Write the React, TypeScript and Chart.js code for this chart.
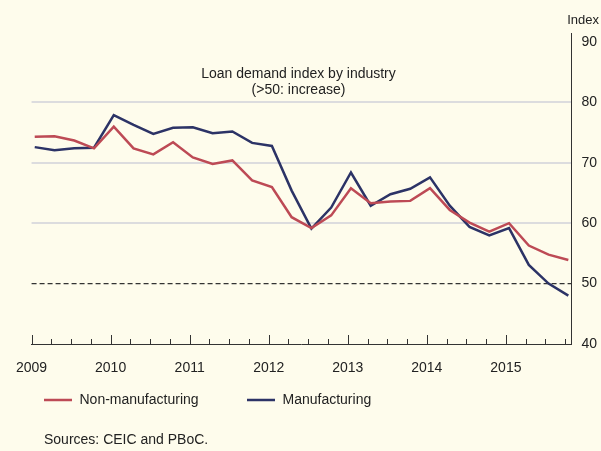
import React, { useEffect, useRef } from 'react';
import { Chart, registerables } from 'chart.js';

Chart.register(...registerables);

const quarters = [
  '2009Q1', '2009Q2', '2009Q3', '2009Q4',
  '2010Q1', '2010Q2', '2010Q3', '2010Q4',
  '2011Q1', '2011Q2', '2011Q3', '2011Q4',
  '2012Q1', '2012Q2', '2012Q3', '2012Q4',
  '2013Q1', '2013Q2', '2013Q3', '2013Q4',
  '2014Q1', '2014Q2', '2014Q3', '2014Q4',
  '2015Q1', '2015Q2', '2015Q3', '2015Q4',
];

const nonManufacturing = [
  74.3, 74.4, 73.7, 72.4,
  76.0, 72.4, 71.4, 73.4,
  70.9, 69.8, 70.4, 67.1,
  66.0, 61.0, 59.2, 61.3,
  65.8, 63.3, 63.6, 63.7,
  65.8, 62.2, 60.1, 58.6,
  60.0, 56.3, 54.8, 53.9,
];

const manufacturing = [
  72.6, 72.1, 72.4, 72.5,
  77.9, 76.3, 74.8, 75.8,
  75.9, 74.9, 75.2, 73.3,
  72.8, 65.4, 59.1, 62.6,
  68.4, 62.9, 64.8, 65.7,
  67.6, 62.9, 59.4, 58.0,
  59.2, 53.1, 50.0, 48.0,
];

const yearTicks = [2009, 2010, 2011, 2012, 2013, 2014, 2015];
const yTicks = [40, 50, 60, 70, 80, 90];
const gridValues = [60, 70, 80];
const threshold = 50;

const titleLines = ['Loan demand index by industry', '(>50: increase)'];
const unitLabel = 'Index';
const sourceText = 'Sources: CEIC and PBoC.';

const RED = '#bd4a55';
const NAVY = '#2c3366';
const TEXT = '#222222';
const AXIS = '#333333';
const BG = '#fefcec';
const FONT = "'Liberation Sans', Arial, Helvetica, sans-serif";

function quarterToYear(q: string): number {
  const year = parseInt(q.slice(0, 4), 10);
  const qn = parseInt(q.slice(5), 10);
  return year + (qn - 1) / 4 + 0.04;
}

const decorPlugin = {
  id: 'decor',
  beforeDatasetsDraw(chart: any) {
    const { ctx, chartArea, scales } = chart;
    const y = scales.y.getPixelForValue(threshold);
    ctx.save();
    ctx.strokeStyle = AXIS;
    ctx.lineWidth = 1.2;
    ctx.setLineDash([5, 3]);
    ctx.beginPath();
    ctx.moveTo(chartArea.left, y);
    ctx.lineTo(chartArea.right, y);
    ctx.stroke();
    ctx.restore();
  },
  afterDraw(chart: any) {
    const { ctx, chartArea, scales } = chart;
    const xs = scales.x;
    ctx.save();
    // quarterly tick marks on x axis, pointing inward
    ctx.strokeStyle = AXIS;
    ctx.lineWidth = 1;
    const bottom = chartArea.bottom;
    for (let i = 0; i < quarters.length; i++) {
      const year = parseInt(quarters[i].slice(0, 4), 10);
      const qn = parseInt(quarters[i].slice(5), 10);
      const v = year + (qn - 1) / 4;
      const px = Math.round(xs.getPixelForValue(v)) + 0.5;
      const len = qn === 1 ? 9 : 5;
      ctx.beginPath();
      ctx.moveTo(px, bottom);
      ctx.lineTo(px, bottom - len);
      ctx.stroke();
    }

    // title inside plot
    ctx.fillStyle = TEXT;
    ctx.font = `14px ${FONT}`;
    ctx.textAlign = 'center';
    ctx.textBaseline = 'middle';
    ctx.fillText(titleLines[0], 298.5, 74);
    ctx.fillText(titleLines[1], 298.5, 90);

    // unit label
    ctx.font = `13px ${FONT}`;
    ctx.textAlign = 'right';
    ctx.fillText(unitLabel, 599, 20);

    // legend
    ctx.font = `14px ${FONT}`;
    ctx.textAlign = 'left';
    const legendPos = [44, 247];
    chart.data.datasets.forEach((ds: any, i: number) => {
      const x0 = legendPos[i];
      ctx.strokeStyle = ds.borderColor;
      ctx.lineWidth = 2.5;
      ctx.setLineDash([]);
      ctx.beginPath();
      ctx.moveTo(x0, 400);
      ctx.lineTo(x0 + 28, 400);
      ctx.stroke();
      ctx.fillStyle = TEXT;
      ctx.fillText(ds.label, x0 + 35.5, 400);
    });

    // sources
    ctx.fillStyle = TEXT;
    ctx.fillText(sourceText, 44, 440);
    ctx.restore();
  },
};

export default function App() {
  const canvasRef = useRef<HTMLCanvasElement | null>(null);

  useEffect(() => {
    document.body.style.margin = '0';
    const canvas = canvasRef.current;
    if (!canvas) return;
    const chart = new Chart(canvas, {
      type: 'line',
      data: {
        datasets: [
          {
            label: 'Non-manufacturing',
            data: quarters.map((q, i) => ({ x: quarterToYear(q), y: nonManufacturing[i] })),
            borderColor: RED,
            backgroundColor: RED,
            borderWidth: 2.5,
            pointRadius: 0,
            tension: 0,
          },
          {
            label: 'Manufacturing',
            data: quarters.map((q, i) => ({ x: quarterToYear(q), y: manufacturing[i] })),
            borderColor: NAVY,
            backgroundColor: NAVY,
            borderWidth: 2.5,
            pointRadius: 0,
            tension: 0,
          },
        ],
      },
      options: {
        animation: false,
        responsive: false,
        devicePixelRatio: 1,
        layout: { padding: { top: 33, left: 31, right: 0, bottom: 0 } },
        plugins: {
          legend: { display: false },
          title: { display: false },
          tooltip: { enabled: false },
        },
        scales: {
          x: {
            type: 'linear',
            min: 2009,
            max: 2015.83,
            afterBuildTicks: (scale: any) => {
              scale.ticks = yearTicks.map((v) => ({ value: v }));
            },
            afterFit: (scale: any) => {
              scale.height = 107;
            },
            grid: { display: false, drawTicks: false },
            border: { display: true, color: AXIS, width: 1 },
            ticks: {
              color: TEXT,
              font: { family: FONT, size: 14 },
              padding: 16,
              maxRotation: 0,
              autoSkip: false,
              callback: (v: any) => String(v),
            },
          },
          y: {
            position: 'right',
            min: 40,
            max: 91.5,
            afterBuildTicks: (scale: any) => {
              scale.ticks = yTicks.map((v) => ({ value: v }));
            },
            afterFit: (scale: any) => {
              scale.width = 29.5;
            },
            grid: {
              drawTicks: false,
              lineWidth: 2,
              color: (c: any) =>
                c.tick && gridValues.includes(c.tick.value) ? '#dcdcde' : 'rgba(0,0,0,0)',
            },
            border: { display: true, color: AXIS, width: 1 },
            ticks: {
              color: TEXT,
              font: { family: FONT, size: 14 },
              padding: 10,
              callback: (v: any) => String(v),
            },
          },
        },
      },
      plugins: [decorPlugin],
    } as any);
    return () => chart.destroy();
  }, []);

  return (
    <div style={{ position: 'absolute', left: 0, top: 0, width: 601, height: 451, background: BG }}>
      <canvas ref={canvasRef} width={601} height={451} style={{ display: 'block' }} />
    </div>
  );
}
